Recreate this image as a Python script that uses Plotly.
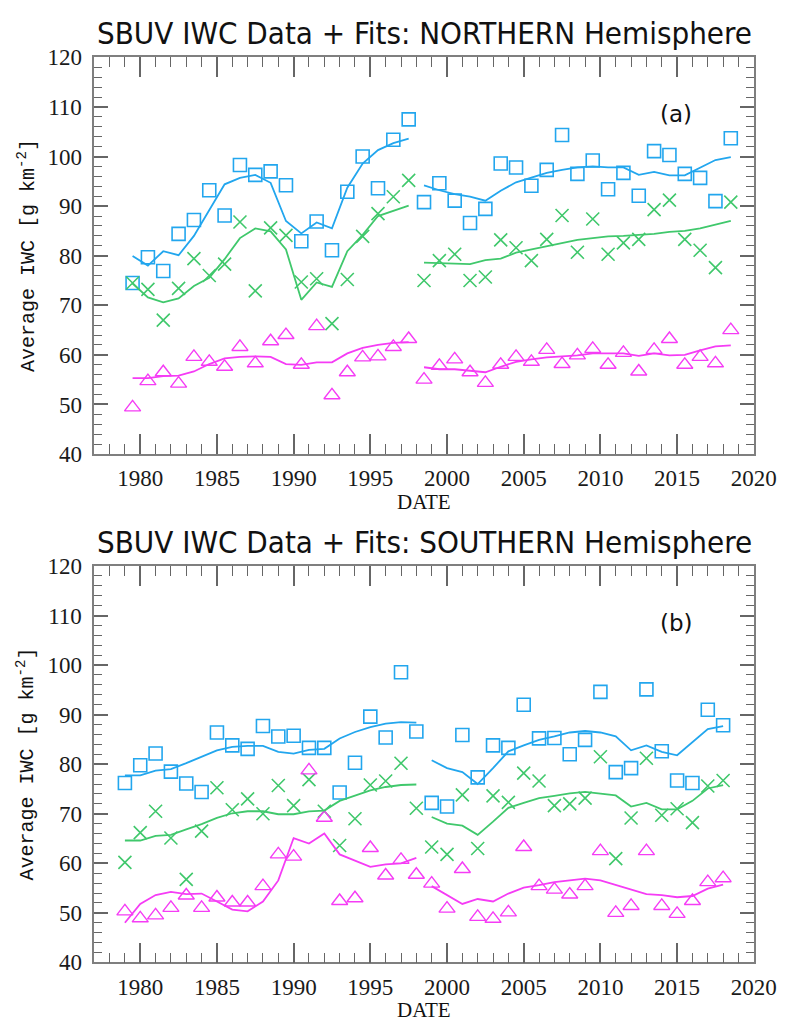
import plotly.graph_objects as go

# ---------------- data ----------------
years = list(range(1979, 2019))
x_north = [y + 0.5 for y in years]
x_south = years

n_high = [74.5, 79.7, 76.9, 84.4, 87.2, 93.2, 88.1, 98.3, 96.3, 97.0, 94.2, 82.9, 86.9, 81.1, 92.9,
          100.0, 93.6, 103.4, 107.5, 90.8, 94.6, 91.1, 86.6, 89.45, 98.6, 97.8, 94.1, 97.3, 104.35,
          96.5, 99.2, 93.4, 96.7, 92.1, 101.1, 100.3, 96.5, 95.7, 91.0, 103.7]
n_mid = [74.5, 73.2, 67.0, 73.4, 79.4, 76.0, 78.3, 86.8, 72.9, 85.6, 84.1, 74.7, 75.35, 66.3, 75.2,
         83.9, 88.5, 91.9, 95.2, 75.0, 79.0, 80.3, 75.0, 75.7, 83.2, 81.6, 79.0, 83.3, 88.1, 80.7,
         87.4, 80.3, 82.6, 83.3, 89.3, 91.2, 83.3, 81.1, 77.6, 90.8]
n_low = [49.4, 54.7, 56.5, 54.2, 59.6, 58.6, 57.6, 61.6, 58.3, 62.75, 64.0, 58.0, 65.8, 51.85, 56.5,
         59.5, 59.7, 61.6, 63.2, 55.0, 57.8, 59.1, 56.5, 54.35, 58.0, 59.6, 58.6, 61.0, 58.15, 59.9,
         61.2, 58.0, 60.4, 56.65, 61.0, 63.2, 58.0, 59.6, 58.3, 65.0]

n_fit_x1 = x_north[:19]
n_fit_x2 = x_north[19:]
n_high_fit1 = [79.95, 78.0, 80.9, 80.1, 84.0, 89.1, 94.4, 95.7, 96.3, 94.7, 87.0, 84.5, 86.7, 85.5,
               93.7, 98.6, 101.3, 102.7, 103.6]
n_high_fit2 = [94.2, 93.2, 92.4, 91.9, 91.1, 93.1, 94.8, 95.8, 96.7, 97.3, 97.8, 98.0, 97.8, 97.8,
               96.3, 96.9, 96.2, 96.2, 97.8, 99.3, 99.9]
n_mid_fit1 = [74.4, 71.6, 70.6, 71.4, 73.9, 75.55, 79.3, 83.55, 85.5, 84.9, 81.25, 71.1, 74.6, 73.7,
              80.9, 84.2, 88.0, 89.1, 90.1]
n_mid_fit2 = [78.6, 78.5, 78.5, 78.3, 79.1, 79.4, 80.6, 81.25, 82.0, 82.7, 83.2, 83.55, 83.9, 84.0,
              84.15, 84.4, 84.8, 85.0, 85.5, 86.2, 87.0]
n_low_fit1 = [55.3, 55.3, 55.7, 55.8, 56.65, 58.15, 59.3, 59.6, 59.7, 59.6, 58.15, 58.0, 58.5, 58.5,
              60.3, 61.4, 62.0, 62.4, 62.55]
n_low_fit2 = [57.5, 57.1, 57.1, 56.85, 56.5, 57.6, 58.6, 59.1, 59.5, 59.7, 59.9, 60.3, 60.3, 60.3,
              59.8, 60.3, 59.9, 60.0, 60.9, 61.7, 61.9]

s_high = [76.2, 79.8, 82.15, 78.5, 76.1, 74.4, 86.4, 83.8, 83.1, 87.7, 85.6, 85.75, 83.3, 83.3, 74.3,
          80.3, 89.6, 85.4, 98.55, 86.6, 72.2, 71.45, 85.9, 77.35, 83.8, 83.3, 92.0, 85.2, 85.3, 82.0,
          84.9, 94.6, 78.4, 79.2, 95.1, 82.6, 76.7, 76.2, 91.0, 87.85]
s_mid = [60.2, 66.2, 70.5, 65.1, 56.75, 66.5, 75.25, 70.8, 73.0, 70.0, 75.7, 71.65, 76.9, 70.5, 63.6,
         69.0, 75.8, 76.6, 80.2, 71.1, 63.3, 61.8, 73.8, 63.0, 73.6, 72.3, 78.2, 76.6, 71.65, 72.0,
         73.15, 81.5, 60.95, 69.15, 81.2, 69.7, 71.0, 68.2, 75.6, 76.7]
s_low = [50.3, 48.9, 49.5, 51.0, 53.5, 51.0, 53.1, 52.1, 52.1, 55.4, 61.8, 61.35, 78.75, 69.2, 52.4,
         52.95, 63.1, 57.55, 60.7, 57.7, 55.9, 50.85, 58.85, 49.2, 48.8, 50.1, 63.3, 55.4, 54.7, 53.7,
         55.4, 62.45, 50.0, 51.4, 62.45, 51.4, 49.8, 52.4, 56.2, 57.0]

s_fit_x1 = x_south[:20]
s_fit_x2 = x_south[20:]
s_high_fit1 = [77.75, 77.75, 78.7, 79.0, 80.2, 81.5, 82.8, 83.5, 83.7, 83.7, 82.5, 82.15, 82.9, 83.1,
               85.2, 86.5, 87.5, 88.2, 88.5, 88.4]
s_high_fit2 = [80.8, 79.2, 78.4, 76.0, 79.2, 82.6, 83.8, 84.9, 85.6, 86.4, 86.7, 86.4, 85.6, 82.8,
               83.8, 82.5, 81.8, 84.45, 87.1, 87.7]
s_mid_fit1 = [64.6, 64.6, 65.55, 65.75, 66.85, 67.9, 69.15, 70.1, 70.5, 70.5, 69.9, 69.9, 70.5, 70.65,
              72.6, 73.7, 74.7, 75.4, 75.8, 75.9]
s_mid_fit2 = [69.35, 68.0, 67.6, 65.75, 68.4, 71.2, 72.2, 73.15, 73.6, 74.1, 74.4, 74.1, 73.7, 71.45,
              72.2, 70.9, 70.9, 72.6, 75.1, 75.8]
s_low_fit1 = [48.0, 51.8, 53.6, 54.25, 53.8, 53.9, 52.3, 50.65, 50.3, 52.3, 56.55, 65.1, 64.0, 66.0,
              61.8, 60.5, 59.3, 59.8, 60.0, 61.1]
s_low_fit2 = [55.4, 53.6, 51.8, 52.8, 52.3, 53.9, 55.1, 55.6, 56.2, 56.55, 56.9, 56.55, 55.6, 54.7,
              53.8, 53.6, 53.15, 53.4, 54.9, 55.7]

titles = ["SBUV IWC Data + Fits: NORTHERN Hemisphere", "SBUV IWC Data + Fits: SOUTHERN Hemisphere"]
panel_labels = ["(a)", "(b)"]
x_ticks = [1980, 1985, 1990, 1995, 2000, 2005, 2010, 2015, 2020]
y_ticks = [40, 50, 60, 70, 80, 90, 100, 110, 120]

# ---------------- style ----------------
W, H = 804, 1033
C_CYAN = "#22A6EE"
C_GREEN = "#40C86C"
C_MAG = "#F53CF5"
FRAME = "#7f7f7f"
TICKC = "#666666"

fig = go.Figure()


def add_panel(xa, ya, xd, high, mid, low, fx1, fx2, hf1, hf2, mf1, mf2, lf1, lf2):
    common = dict(xaxis=xa, yaxis=ya, showlegend=False, hoverinfo="skip")
    fig.add_trace(go.Scatter(x=xd, y=high, mode="markers",
                             marker=dict(symbol="square-open", size=13, color=C_CYAN,
                                         line=dict(width=1.6, color=C_CYAN)), **common))
    fig.add_trace(go.Scatter(x=xd, y=mid, mode="markers",
                             marker=dict(symbol="x-thin-open", size=13, color=C_GREEN,
                                         line=dict(width=1.6, color=C_GREEN)), **common))
    fig.add_trace(go.Scatter(x=xd, y=low, mode="markers",
                             marker=dict(symbol="triangle-up-open", size=14, color=C_MAG,
                                         line=dict(width=1.4, color=C_MAG)), **common))
    for xs, ys, c in [(fx1, hf1, C_CYAN), (fx2, hf2, C_CYAN),
                      (fx1, mf1, C_GREEN), (fx2, mf2, C_GREEN),
                      (fx1, lf1, C_MAG), (fx2, lf2, C_MAG)]:
        fig.add_trace(go.Scatter(x=xs, y=ys, mode="lines",
                                 line=dict(color=c, width=1.8), **common))


add_panel("x", "y", x_north, n_high, n_mid, n_low, n_fit_x1, n_fit_x2,
          n_high_fit1, n_high_fit2, n_mid_fit1, n_mid_fit2, n_low_fit1, n_low_fit2)
add_panel("x2", "y2", x_south, s_high, s_mid, s_low, s_fit_x1, s_fit_x2,
          s_high_fit1, s_high_fit2, s_mid_fit1, s_mid_fit2, s_low_fit1, s_low_fit2)

x_dom = [97 / W, 776 / W]
y_dom_top = [1 - 453 / H, 1 - 46.5 / H]
y_dom_bot = [1 - 974 / H, 1 - 567.7 / H]

tick_font = dict(family="Liberation Serif", size=23, color="#1a1a1a")


def xaxis_cfg(anchor):
    return dict(domain=x_dom, anchor=anchor, range=[1977, 2020],
                tickvals=x_ticks, ticks="inside", ticklen=20, tickwidth=1.5, tickcolor=TICKC,
                minor=dict(dtick=1, tick0=1977, ticks="inside", ticklen=10, tickwidth=1.3,
                           tickcolor=TICKC, showgrid=False),
                showline=True, linecolor=FRAME, linewidth=1.5, mirror="allticks",
                showgrid=False, zeroline=False, tickfont=tick_font, ticklabelstandoff=3)


def yaxis_cfg(anchor, dom):
    return dict(domain=dom, anchor=anchor, range=[40, 120],
                tickvals=y_ticks, ticks="inside", ticklen=14, tickwidth=1.5, tickcolor=TICKC,
                minor=dict(dtick=2, tick0=40, ticks="inside", ticklen=8, tickwidth=1.3,
                           tickcolor=TICKC, showgrid=False),
                showline=True, linecolor=FRAME, linewidth=1.5, mirror="allticks",
                showgrid=False, zeroline=False, tickfont=tick_font, ticklabelstandoff=6)


annotations = []
title_font = dict(family="Liberation Sans Narrow, DejaVu Sans Condensed, sans-serif", size=31, color="#111111")
ylab_font = dict(family="Liberation Mono", size=20, color="#111111")
date_font = dict(family="Liberation Serif", size=21, color="#111111")
for i, (ttl, pl) in enumerate(zip(titles, panel_labels)):
    top_px = [46.5, 567.7][i]
    bot_px = [453, 974][i]
    annotations.append(dict(text=ttl, x=437 / W, y=1 - (top_px - 25) / H, xref="paper", yref="paper",
                            showarrow=False, font=title_font, xanchor="center", yanchor="middle"))
    annotations.append(dict(text=pl, x=696 / W, y=1 - (top_px + 58) / H, xref="paper", yref="paper",
                            showarrow=False, font=dict(family="DejaVu Sans", size=23, color="#111111"),
                            xanchor="center", yanchor="middle"))
    annotations.append(dict(text="Average IWC [g km<sup>-2</sup>]", x=27 / W,
                            y=1 - ((top_px + bot_px) / 2) / H, xref="paper", yref="paper",
                            textangle=-90, showarrow=False, font=ylab_font,
                            xanchor="center", yanchor="middle"))
    annotations.append(dict(text="DATE", x=436 / W, y=1 - (bot_px + 49) / H, xref="paper", yref="paper",
                            showarrow=False, font=date_font, xanchor="center", yanchor="middle"))

fig.update_layout(
    width=W, height=H, margin=dict(l=0, r=0, t=0, b=0),
    paper_bgcolor="white", plot_bgcolor="white",
    xaxis=xaxis_cfg("y"), yaxis=yaxis_cfg("x", y_dom_top),
    xaxis2=xaxis_cfg("y2"), yaxis2=yaxis_cfg("x2", y_dom_bot),
    annotations=annotations,
)

fig.write_html("out.html", config={"displayModeBar": False},
               post_script="document.body.style.margin='0px';")
